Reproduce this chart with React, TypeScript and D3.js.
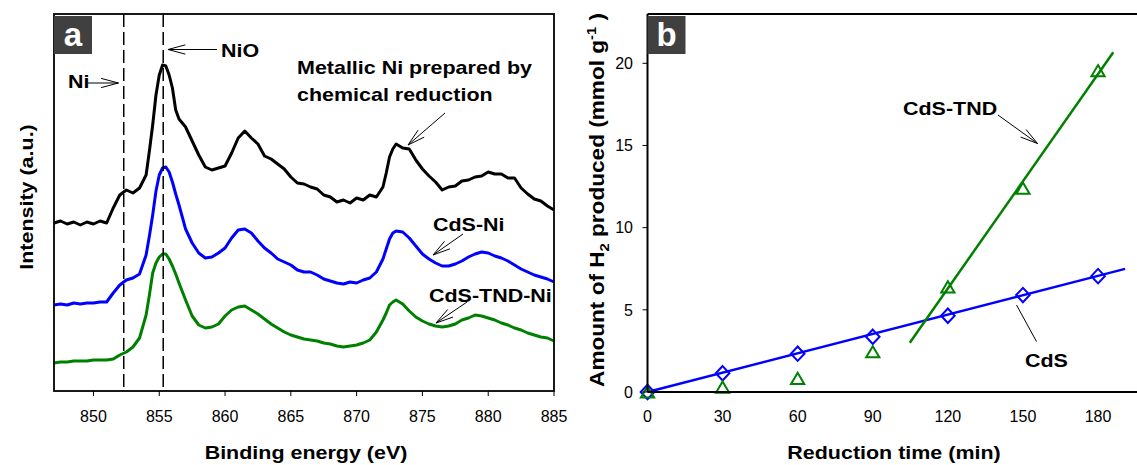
import React from 'react';
import * as d3 from 'd3';

// ---- panel a: Ni 2p XPS spectra (intensity in a.u.) ----
const energies = [
  847, 847.5, 848, 848.5, 849, 849.5, 850, 850.5, 851, 851.5, 852, 852.5, 853, 853.5, 854,
  854.25, 854.5, 854.75, 855, 855.25, 855.5, 855.75, 856, 856.25, 856.5,
  857, 857.5, 858, 858.5, 859, 859.5, 860, 860.5, 861, 861.5, 862, 862.5, 863, 863.5, 864,
  864.5, 865, 865.5, 866, 866.5, 867, 867.5, 868, 868.5, 869, 869.5, 870, 870.5, 871, 871.5, 872,
  872.25, 872.5, 872.75, 873,
  873.5, 874, 874.5, 875, 875.5, 876, 876.5, 877, 877.5, 878, 878.5, 879, 879.5, 880, 880.5,
  881, 881.5, 882, 882.5, 883, 883.5, 884, 884.5, 885
];
const metallicNi = [
  168, 170, 167, 169, 166, 169, 167, 170, 168, 183, 196, 201, 198, 203, 216,
  240, 266, 296, 316, 326, 325, 316, 303, 281, 272,
  264, 250, 236, 224, 221, 223, 225, 238, 253, 260, 253, 247, 235, 232, 227,
  222, 214, 208, 207, 204, 202, 196, 194, 189, 191, 188, 193, 191, 196, 194, 204,
  218, 234, 242, 247,
  243, 242, 231, 222, 215, 209, 201, 204, 205, 210, 211, 214, 215, 219, 217,
  217, 213, 213, 203, 197, 192, 190, 185, 181
];
const cdsNi = [
  86, 87, 86, 88, 87, 88, 88, 89, 89, 98, 106, 111, 113, 117, 136,
  155, 176, 200, 216, 223, 224, 219, 209, 197, 186,
  162, 148, 138, 133, 134, 138, 143, 153, 161, 162, 158, 150, 143, 138, 132,
  129, 126, 121, 119, 119, 116, 112, 110, 108, 107, 109, 108, 111, 113, 119, 132,
  142, 152, 158, 160,
  159, 153, 145, 137, 132, 128, 125, 125, 127, 130, 134, 137, 139, 138, 135,
  133, 130, 126, 122, 119, 116, 114, 112, 109
];
const cdsTndNi = [
  28, 29, 29, 30, 30, 30, 31, 31, 31, 32, 36, 39, 44, 53, 76,
  96, 118, 128, 134, 137, 137, 132, 125, 117, 108,
  91, 75, 66, 63, 64, 67, 75, 81, 84, 85, 81, 77, 72, 67, 63,
  59, 56, 54, 52, 51, 50, 48, 47, 45, 44, 45, 46, 48, 51, 59, 71,
  78, 86, 89, 91,
  87, 80, 74, 70, 67, 65, 64, 65, 67, 71, 73, 76, 75, 73, 71,
  68, 66, 63, 61, 58, 56, 54, 53, 50
];
const energyTicks = [850, 855, 860, 865, 870, 875, 880, 885];
const refLines = [852.3, 855.3]; // Ni metal, NiO

// ---- panel b: H2 produced vs reduction time ----
const times = [0, 30, 60, 90, 120, 150, 180];
const cdsH2 = [0, 1.14, 2.33, 3.36, 4.64, 5.9, 7.05];
const cdsTndH2 = [0, 0.3, 0.83, 2.45, 6.4, 12.4, 19.55];
const cdsFitT = [0, 190.8];
const cdsFitV = [0, 7.49];
const tndFitT = [104.8, 186.1];
const tndFitV = [3.0, 20.67];
const timeTicks = [0, 30, 60, 90, 120, 150, 180];
const h2Ticks = [0, 5, 10, 15, 20];

const W = 1137;
const H = 465;
const FONT = '"Liberation Sans", Arial, Helvetica, sans-serif';
const STRETCH = 1.13; // bold labels in the figure are slightly widened
const BLUE = '#0000ff';
const GREEN = '#008000';

const BoldText = ({ x, y, anchor = 'start', rotate = false, size = 19, children }: any) => (
  <text
    transform={`translate(${x},${y})${rotate ? ' rotate(-90)' : ''} scale(${STRETCH},1)`}
    textAnchor={anchor}
    fontFamily={FONT}
    fontWeight="bold"
    fontSize={size}
    fill="#000"
  >
    {children}
  </text>
);

// thin line with open arrow head at (x2, y2)
const Arrow = ({ x1, y1, x2, y2, head = true }: any) => {
  const ang = Math.atan2(y1 - y2, x1 - x2);
  const len = 18;
  const spread = 0.26;
  const h1 = [x2 + len * Math.cos(ang + spread), y2 + len * Math.sin(ang + spread)];
  const h2 = [x2 + len * Math.cos(ang - spread), y2 + len * Math.sin(ang - spread)];
  return (
    <g stroke="#000" strokeWidth={1} fill="none">
      <line x1={x1} y1={y1} x2={x2} y2={y2} />
      {head && <polyline points={`${h1[0]},${h1[1]} ${x2},${y2} ${h2[0]},${h2[1]}`} />}
    </g>
  );
};

const PanelTag = ({ x, y, label }: any) => (
  <g>
    <rect x={x} y={y} width={38} height={38} fill="#404040" />
    <text x={x + 19} y={y + 30} textAnchor="middle" fontFamily={FONT} fontWeight="bold" fontSize={33} fill="#fff">
      {label}
    </text>
  </g>
);

const PanelA = () => {
  const left = 54, right = 554, top = 14, bottom = 391;
  const x = d3.scaleLinear().domain([847, 885]).range([left, right]);
  const y = d3.scaleLinear().domain([0, 377]).range([bottom, top]);
  const line = d3
    .line<number>()
    .x((_, i) => x(energies[i]))
    .y((d) => y(d));
  const series = [
    { values: metallicNi, color: '#000' },
    { values: cdsNi, color: BLUE },
    { values: cdsTndNi, color: GREEN }
  ];
  return (
    <g>
      {series.map((s, i) => (
        <path key={i} d={line(s.values) || ''} fill="none" stroke={s.color} strokeWidth={3} strokeLinejoin="round" />
      ))}
      {refLines.map((e) => (
        <line key={e} x1={x(e)} x2={x(e)} y1={top} y2={bottom} stroke="#000" strokeWidth={1.5} strokeDasharray="13,5" />
      ))}
      <rect x={left} y={top} width={right - left} height={bottom - top} fill="none" stroke="#000" strokeWidth={1.8} />
      {energyTicks.map((t) => (
        <g key={t}>
          <line x1={x(t)} x2={x(t)} y1={bottom} y2={bottom + 5} stroke="#000" strokeWidth={1} />
          <text x={x(t)} y={421.5} textAnchor="middle" fontFamily={FONT} fontSize={16}>
            {t}
          </text>
        </g>
      ))}
      <PanelTag x={left} y={16} label="a" />
      <BoldText x={306} y={459} anchor="middle">Binding energy (eV)</BoldText>
      <BoldText x={33} y={197} anchor="middle" rotate>Intensity (a.u.)</BoldText>

      <BoldText x={68} y={88}>Ni</BoldText>
      <Arrow x1={88} y1={83} x2={118.5} y2={83} />
      <BoldText x={221} y={57}>NiO</BoldText>
      <Arrow x1={217} y1={49.5} x2={168} y2={49.5} />
      <BoldText x={297} y={74}>Metallic Ni prepared by</BoldText>
      <BoldText x={297} y={100.5}>chemical reduction</BoldText>
      <Arrow x1={445} y1={113} x2={408} y2={145} />
      <BoldText x={433} y={231}>CdS-Ni</BoldText>
      <Arrow x1={463} y1={234} x2={433} y2={255} />
      <BoldText x={429} y={302}>CdS-TND-Ni</BoldText>
      <Arrow x1={467} y1={302} x2={436} y2={323} />
    </g>
  );
};

const PanelB = () => {
  const left = 647.5, top = 14, bottom = 392;
  const x = d3.scaleLinear().domain([0, 200]).range([left, left + 200 * 2.503]);
  const y = d3.scaleLinear().domain([0, 23]).range([bottom, top]);
  const cdsLine = d3.line<number>().x((t) => x(t)).y((_, i) => y(cdsFitV[i]));
  const tndLine = d3.line<number>().x((t) => x(t)).y((_, i) => y(tndFitV[i]));
  return (
    <g>
      <path d={cdsLine(cdsFitT) || ''} stroke={BLUE} strokeWidth={2.5} fill="none" />
      <path d={tndLine(tndFitT) || ''} stroke={GREEN} strokeWidth={2.5} fill="none" />
      {times.map((t, i) => (
        <path
          key={'d' + t}
          transform={`translate(${x(t)},${y(cdsH2[i])})`}
          d="M0,-7.2L6.8,0L0,7.2L-6.8,0Z"
          fill="none"
          stroke={BLUE}
          strokeWidth={2}
        />
      ))}
      {times.map((t, i) => (
        <path
          key={'t' + t}
          transform={`translate(${x(t)},${y(cdsTndH2[i])})`}
          d="M0,-5.6L6.6,5.6L-6.6,5.6Z"
          fill="none"
          stroke={GREEN}
          strokeWidth={2}
        />
      ))}
      <line x1={left} x2={W + 10} y1={top} y2={top} stroke="#000" strokeWidth={2} />
      <line x1={left} x2={left} y1={top} y2={bottom} stroke="#000" strokeWidth={2} />
      <line x1={left} x2={W + 10} y1={bottom} y2={bottom} stroke="#000" strokeWidth={2} />
      {h2Ticks.map((v) => (
        <g key={v}>
          <line x1={left - 5} x2={left} y1={y(v)} y2={y(v)} stroke="#000" strokeWidth={1} />
          <text x={633} y={y(v) + 5.8} textAnchor="end" fontFamily={FONT} fontSize={16}>
            {v}
          </text>
        </g>
      ))}
      {timeTicks.map((t) => (
        <text key={t} x={x(t)} y={421.5} textAnchor="middle" fontFamily={FONT} fontSize={16}>
          {t}
        </text>
      ))}
      <PanelTag x={left} y={16} label="b" />
      <BoldText x={894} y={459} anchor="middle">Reduction time (min)</BoldText>
      <text
        transform={`translate(604,200) rotate(-90) scale(${STRETCH},1)`}
        textAnchor="middle"
        fontFamily={FONT}
        fontWeight="bold"
        fontSize={20}
      >
        Amount of H
        <tspan fontSize={13} dy={5}>2</tspan>
        <tspan dy={-5}> produced (mmol g</tspan>
        <tspan fontSize={13} dy={-8}>-1</tspan>
        <tspan dy={8}> )</tspan>
      </text>

      <BoldText x={903} y={115}>CdS-TND</BoldText>
      <Arrow x1={998} y1={115} x2={1037.5} y2={143.5} />
      <BoldText x={1025} y={367}>CdS</BoldText>
      <Arrow x1={1016.5} y1={305} x2={1036.5} y2={341.5} head={false} />
    </g>
  );
};

export default function App() {
  return (
    <svg
      width={W}
      height={H}
      viewBox={`0 0 ${W} ${H}`}
      style={{ position: 'absolute', left: 0, top: 0, display: 'block', background: '#fff' }}
    >
      <rect width={W} height={H} fill="#fff" />
      <PanelA />
      <PanelB />
    </svg>
  );
}
